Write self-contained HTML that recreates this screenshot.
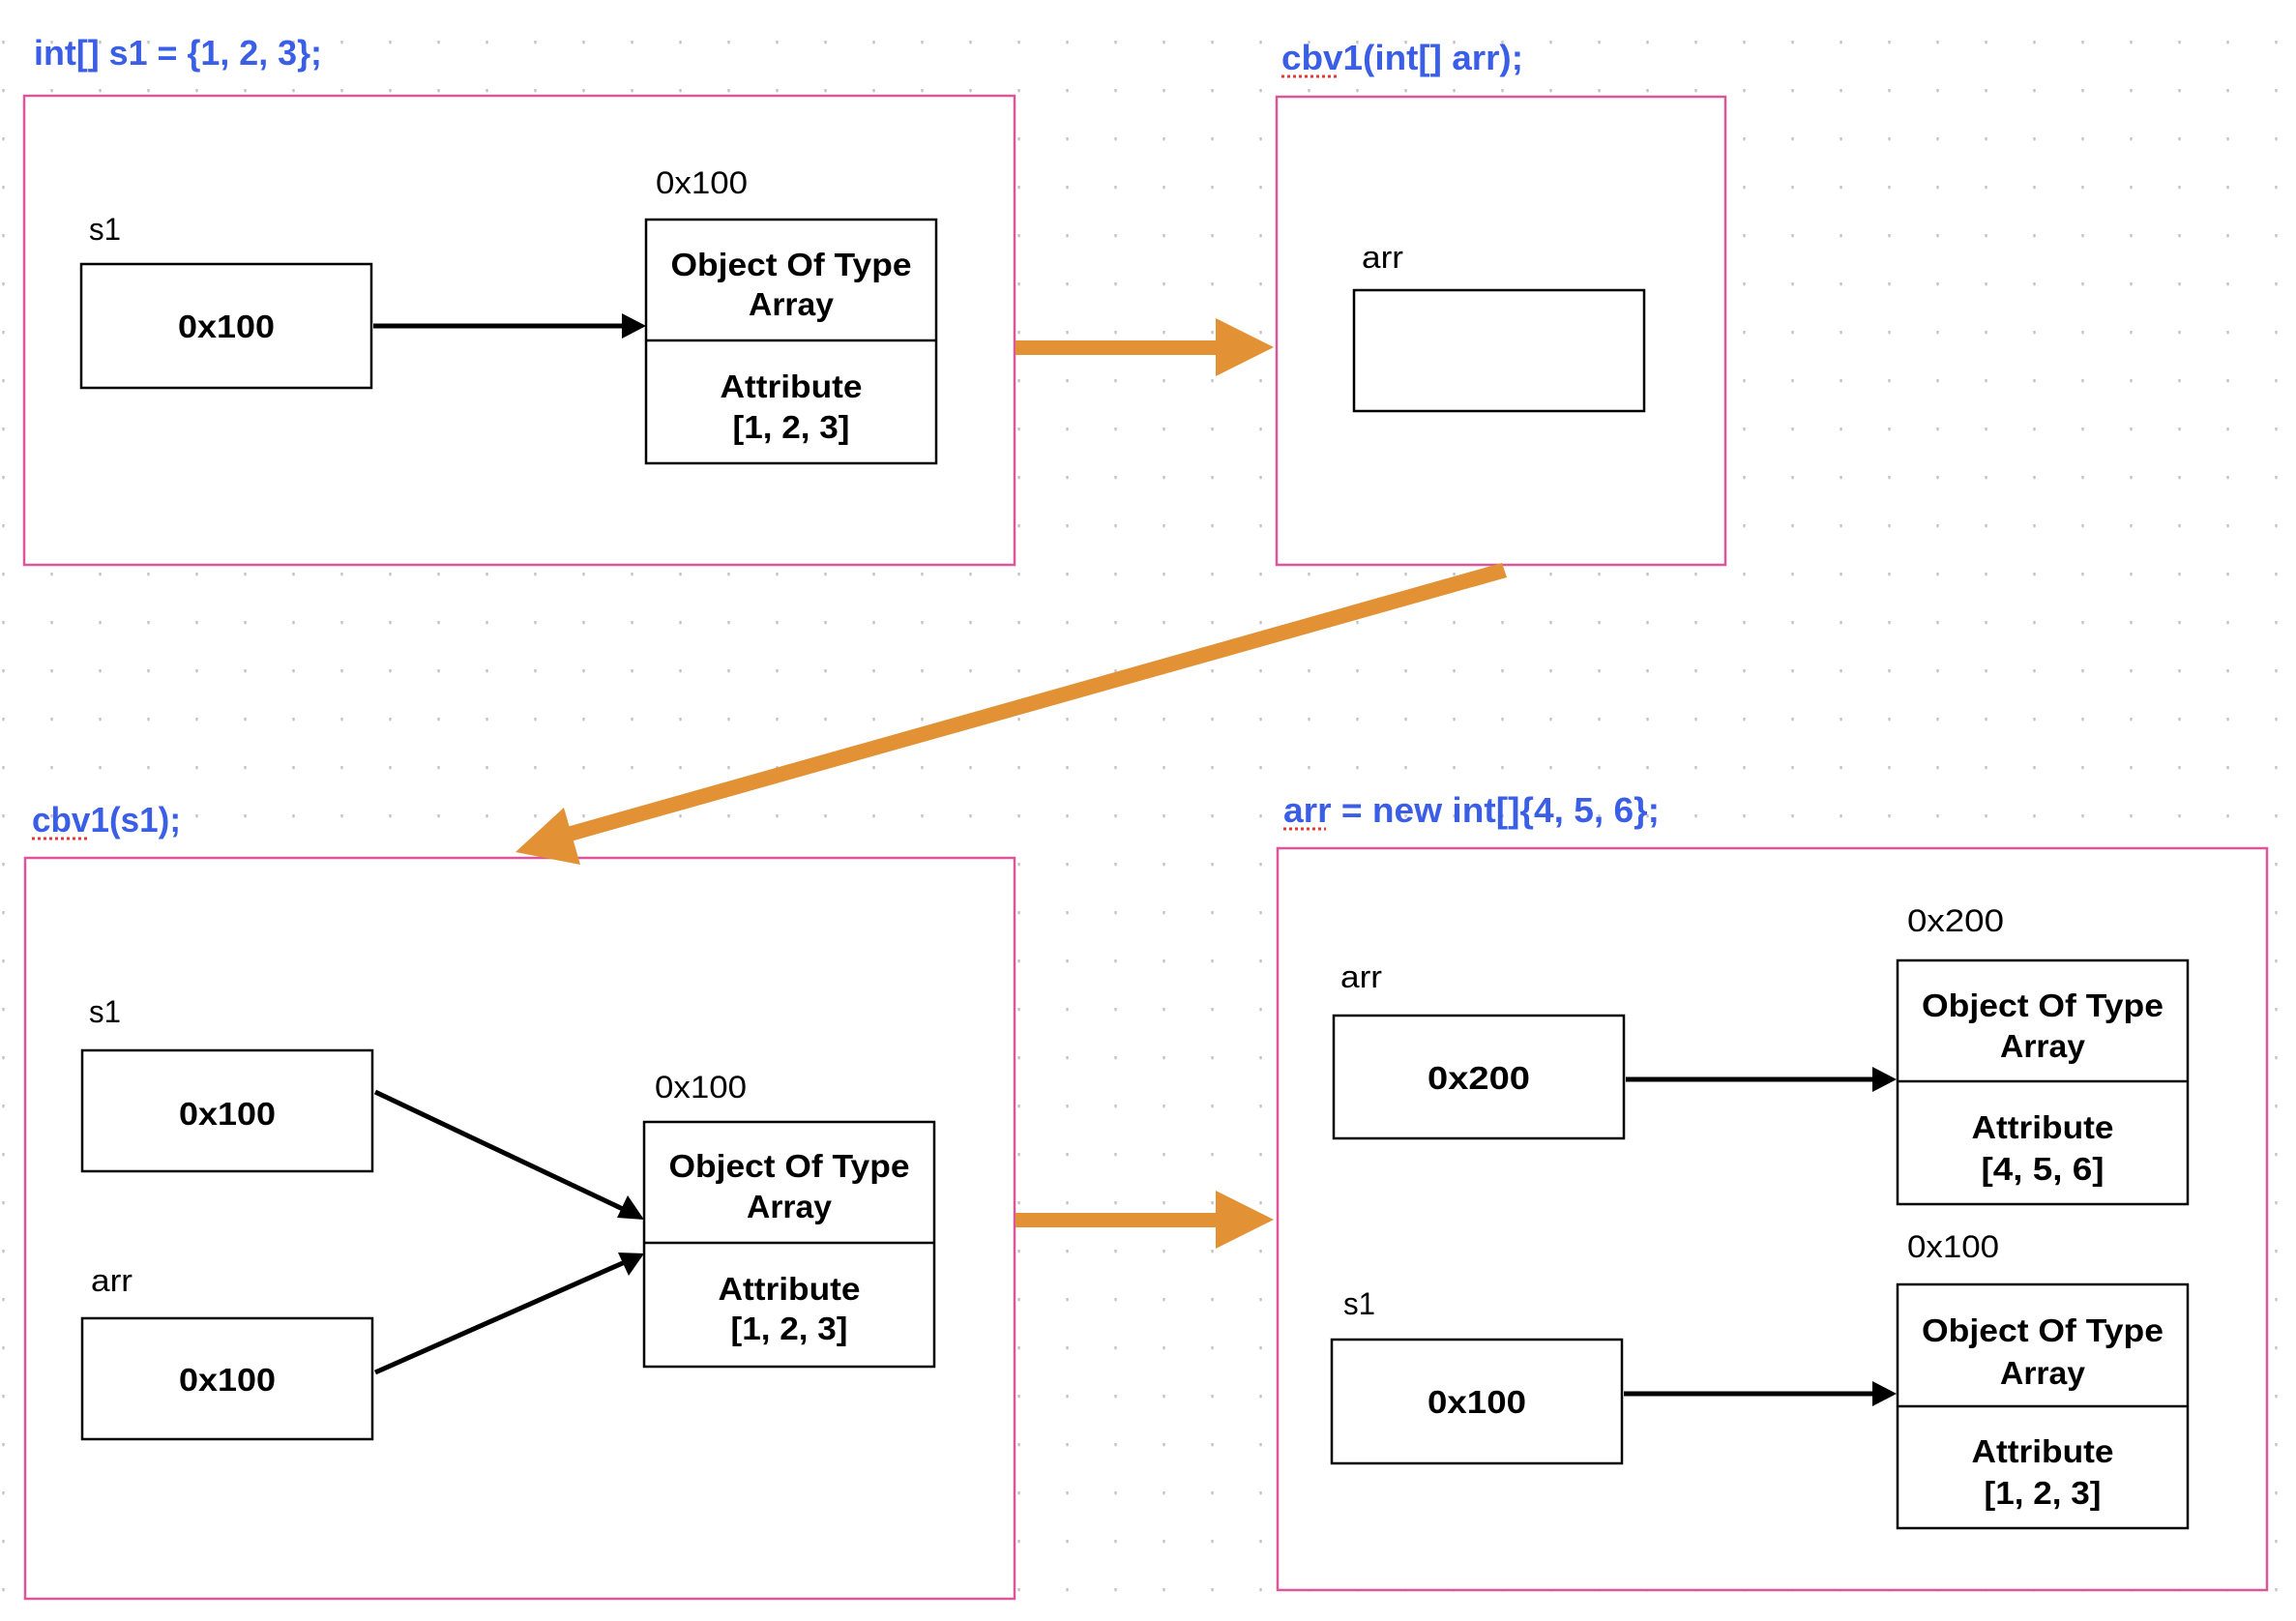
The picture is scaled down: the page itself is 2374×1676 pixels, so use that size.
<!DOCTYPE html>
<html><head><meta charset="utf-8"><style>
html,body{margin:0;padding:0;background:#fff;}
svg{display:block;}
text{font-family:"Liberation Sans",sans-serif;fill:#000;}
.t{font-weight:bold;fill:#3a5ee6;font-size:36px;}
.b{font-weight:bold;font-size:33px;}
.r{font-size:32px;}
</style></head><body>
<svg width="2374" height="1676" viewBox="0 0 2374 1676" xmlns="http://www.w3.org/2000/svg">
<defs>
<pattern id="dots" x="2" y="42" width="50" height="50" patternUnits="userSpaceOnUse">
<ellipse cx="1.5" cy="1.5" rx="1.3" ry="2" fill="#c4c4c4"/>
</pattern>
</defs>
<rect width="2374" height="1676" fill="url(#dots)"/>

<g fill="#fff" stroke="#d9579a" stroke-width="2.5">
<rect x="25" y="99" width="1024" height="485"/>
<rect x="1320" y="100" width="464" height="484"/>
<rect x="26" y="887" width="1023" height="766"/>
<rect x="1321" y="877" width="1023" height="767"/>
</g>

<!-- titles -->
<text class="t" x="35" y="67" textLength="298" lengthAdjust="spacingAndGlyphs">int[] s1 = {1, 2, 3};</text>
<text class="t" x="1325" y="72" textLength="250" lengthAdjust="spacingAndGlyphs">cbv1(int[] arr);</text>
<line x1="1325" y1="79" x2="1384" y2="79" stroke="#e53935" stroke-width="3" stroke-dasharray="3,3"/>
<text class="t" x="33" y="860" textLength="154" lengthAdjust="spacingAndGlyphs">cbv1(s1);</text>
<line x1="33" y1="867" x2="92" y2="867" stroke="#e53935" stroke-width="3" stroke-dasharray="3,3"/>
<text class="t" x="1327" y="850" textLength="389" lengthAdjust="spacingAndGlyphs">arr = new int[]{4, 5, 6};</text>
<line x1="1327" y1="857" x2="1371" y2="857" stroke="#e53935" stroke-width="3" stroke-dasharray="3,3"/>

<g fill="#fff" stroke="#000" stroke-width="2.5">
<rect x="84" y="273" width="300" height="128"/>
<rect x="668" y="227" width="300" height="252"/>
<line x1="668" y1="352" x2="968" y2="352"/>
<rect x="1400" y="300" width="300" height="125"/>
<rect x="85" y="1086" width="300" height="125"/>
<rect x="85" y="1363" width="300" height="125"/>
<rect x="666" y="1160" width="300" height="253"/>
<line x1="666" y1="1285" x2="966" y2="1285"/>
<rect x="1379" y="1050" width="300" height="127"/>
<rect x="1377" y="1385" width="300" height="128"/>
<rect x="1962" y="993" width="300" height="252"/>
<line x1="1962" y1="1118" x2="2262" y2="1118"/>
<rect x="1962" y="1328" width="300" height="252"/>
<line x1="1962" y1="1454" x2="2262" y2="1454"/>
</g>

<g stroke="#000" stroke-width="5" fill="none">
<line x1="386" y1="337" x2="645" y2="337"/>
<line x1="388" y1="1129" x2="646" y2="1251"/>
<line x1="388" y1="1419" x2="646" y2="1305"/>
<line x1="1681" y1="1116" x2="1940" y2="1116"/>
<line x1="1679" y1="1441" x2="1940" y2="1441"/>
</g>
<g fill="#000">
<polygon points="668,337 643,324 643,350"/>
<polygon points="666,1261 638,1259 649,1236"/>
<polygon points="666,1296 650,1319 639,1295"/>
<polygon points="1961,1116 1936,1103 1936,1129"/>
<polygon points="1961,1441 1936,1428 1936,1454"/>
</g>

<g fill="#e29135">
<rect x="1050" y="352" width="210" height="15"/>
<polygon points="1317,359 1257,329 1257,389"/>
<rect x="1050" y="1254" width="210" height="15"/>
<polygon points="1317,1261 1257,1231 1257,1291"/>
<polygon points="1553,582 1558,597 590,870 586,855"/>
<polygon points="533,881 583,835 600,894"/>
</g>

<text class="r" x="92" y="248" textLength="33" lengthAdjust="spacingAndGlyphs">s1</text>
<text class="r" x="678" y="200" textLength="95" lengthAdjust="spacingAndGlyphs">0x100</text>
<text class="b" x="234" y="349" text-anchor="middle" textLength="100" lengthAdjust="spacingAndGlyphs">0x100</text>
<text class="b" x="818" y="285" text-anchor="middle" textLength="249" lengthAdjust="spacingAndGlyphs">Object Of Type</text>
<text class="b" x="818" y="326" text-anchor="middle" textLength="88" lengthAdjust="spacingAndGlyphs">Array</text>
<text class="b" x="818" y="411" text-anchor="middle" textLength="147" lengthAdjust="spacingAndGlyphs">Attribute</text>
<text class="b" x="818" y="453" text-anchor="middle" textLength="121" lengthAdjust="spacingAndGlyphs">[1, 2, 3]</text>

<text class="r" x="1408" y="277" textLength="43" lengthAdjust="spacingAndGlyphs">arr</text>

<text class="r" x="92" y="1057" textLength="33" lengthAdjust="spacingAndGlyphs">s1</text>
<text class="r" x="94" y="1335" textLength="43" lengthAdjust="spacingAndGlyphs">arr</text>
<text class="b" x="235" y="1163" text-anchor="middle" textLength="100" lengthAdjust="spacingAndGlyphs">0x100</text>
<text class="b" x="235" y="1438" text-anchor="middle" textLength="100" lengthAdjust="spacingAndGlyphs">0x100</text>
<text class="r" x="677" y="1135" textLength="95" lengthAdjust="spacingAndGlyphs">0x100</text>
<text class="b" x="816" y="1217" text-anchor="middle" textLength="249" lengthAdjust="spacingAndGlyphs">Object Of Type</text>
<text class="b" x="816" y="1259" text-anchor="middle" textLength="88" lengthAdjust="spacingAndGlyphs">Array</text>
<text class="b" x="816" y="1344" text-anchor="middle" textLength="147" lengthAdjust="spacingAndGlyphs">Attribute</text>
<text class="b" x="816" y="1385" text-anchor="middle" textLength="121" lengthAdjust="spacingAndGlyphs">[1, 2, 3]</text>

<text class="r" x="1386" y="1021" textLength="43" lengthAdjust="spacingAndGlyphs">arr</text>
<text class="r" x="1389" y="1359" textLength="33" lengthAdjust="spacingAndGlyphs">s1</text>
<text class="b" x="1529" y="1126" text-anchor="middle" textLength="106" lengthAdjust="spacingAndGlyphs">0x200</text>
<text class="b" x="1527" y="1461" text-anchor="middle" textLength="102" lengthAdjust="spacingAndGlyphs">0x100</text>
<text class="r" x="1972" y="963" textLength="100" lengthAdjust="spacingAndGlyphs">0x200</text>
<text class="r" x="1972" y="1300" textLength="95" lengthAdjust="spacingAndGlyphs">0x100</text>
<text class="b" x="2112" y="1051" text-anchor="middle" textLength="250" lengthAdjust="spacingAndGlyphs">Object Of Type</text>
<text class="b" x="2112" y="1093" text-anchor="middle" textLength="88" lengthAdjust="spacingAndGlyphs">Array</text>
<text class="b" x="2112" y="1177" text-anchor="middle" textLength="147" lengthAdjust="spacingAndGlyphs">Attribute</text>
<text class="b" x="2112" y="1220" text-anchor="middle" textLength="127" lengthAdjust="spacingAndGlyphs">[4, 5, 6]</text>
<text class="b" x="2112" y="1387" text-anchor="middle" textLength="250" lengthAdjust="spacingAndGlyphs">Object Of Type</text>
<text class="b" x="2112" y="1431" text-anchor="middle" textLength="88" lengthAdjust="spacingAndGlyphs">Array</text>
<text class="b" x="2112" y="1512" text-anchor="middle" textLength="147" lengthAdjust="spacingAndGlyphs">Attribute</text>
<text class="b" x="2112" y="1555" text-anchor="middle" textLength="121" lengthAdjust="spacingAndGlyphs">[1, 2, 3]</text>
</svg>
</body></html>
